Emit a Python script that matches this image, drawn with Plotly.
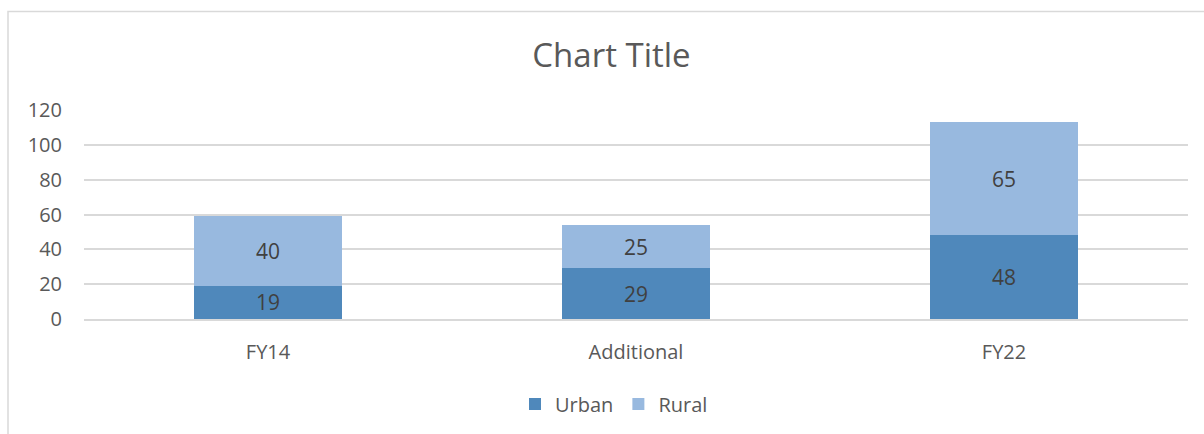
import plotly.graph_objects as go

categories = ["FY14", "Additional", "FY22"]
urban = [19, 29, 48]
rural = [40, 25, 65]
y_ticks = [0, 20, 40, 60, 80, 100, 120]

FONT = "Open Sans"

fig = go.Figure()
fig.add_trace(go.Bar(
    name="Urban", x=categories, y=urban, marker=dict(color="#4f88bb", line=dict(width=0)),
    text=urban, textposition="inside", insidetextanchor="middle", textangle=0,
    constraintext="none",
    textfont=dict(family=FONT, size=21, color="#404040"),
))
fig.add_trace(go.Bar(
    name="Rural", x=categories, y=rural, marker=dict(color="#98b9df", line=dict(width=0)),
    text=rural, textposition="inside", insidetextanchor="middle", textangle=0,
    constraintext="none",
    textfont=dict(family=FONT, size=21, color="#404040"),
))

fig.update_layout(
    barmode="stack",
    bargap=0.6,
    width=1204, height=434,
    margin=dict(l=84, r=16, t=110, b=114),
    paper_bgcolor="white", plot_bgcolor="white",
    font=dict(family=FONT, color="#595959", size=20),
    title=dict(text="Chart Title", x=611.5 / 1204, xanchor="center", y=1 - 55/434, yanchor="middle",
               font=dict(family=FONT, size=33, color="#595959")),
    showlegend=True,
    legend=dict(orientation="h", x=0.5 - 22 / 1104, xanchor="center", y=-0.4, yanchor="middle",
                font=dict(family=FONT, size=20, color="#595959"), traceorder="normal",
                itemwidth=30),
    uniformtext=dict(mode=False),
    shapes=[dict(type="rect", xref="paper", yref="paper",
                 x0=(8 - 84) / 1104, x1=1.05, y0=-0.7, y1=(320 - 11) / 210,
                 line=dict(color="#d9d9d9", width=1.5), fillcolor="rgba(0,0,0,0)", layer="below")],
)
fig.update_xaxes(showgrid=False, showline=True, linecolor="#d9d9d9", linewidth=1.5,
                 ticks="", ticklabelstandoff=14, tickfont=dict(size=20, color="#595959"))
fig.update_yaxes(range=[0, 120], tickvals=y_ticks, showgrid=True, gridcolor="#d9d9d9", gridwidth=1.5,
                 zeroline=False, showline=False, ticks="", ticklabelstandoff=21,
                 tickfont=dict(size=20, color="#595959"))

fig.write_html("out.html", post_script="document.body.style.margin='0';",
               config={"displayModeBar": False})
